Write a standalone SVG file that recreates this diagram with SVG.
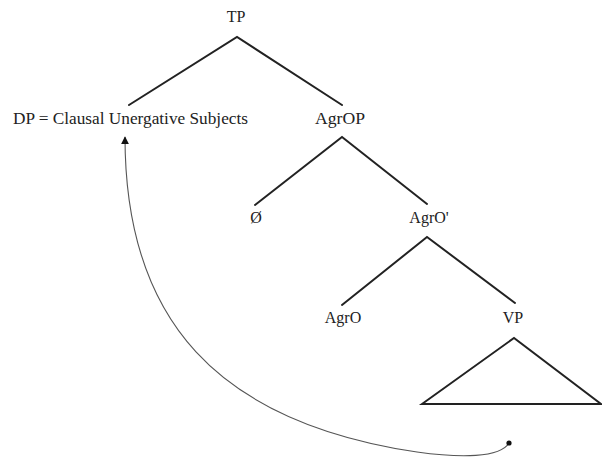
<svg xmlns="http://www.w3.org/2000/svg" width="602" height="458" viewBox="0 0 602 458">
<style>
.lbl{font-family:"Liberation Serif","Times New Roman",serif;font-size:16px;fill:#222;text-anchor:middle}
.br{stroke:#222;stroke-width:2;fill:none;stroke-linecap:round}
.mv{stroke:#555;stroke-width:1.1;fill:none}
</style>
<defs>
<marker id="ah" viewBox="0 0 10 10" refX="9" refY="5" markerWidth="8" markerHeight="8" markerUnits="userSpaceOnUse" orient="auto">
<path d="M0,0 L10,5 L0,10 z" fill="#111"/>
</marker>
</defs>
<rect width="602" height="458" fill="#fff"/>
<g id="connectors">
<path class="br" d="M129,105 L237,37 L342,105"/>
<path class="br" d="M255,205 L342,137 L427,204"/>
<path class="br" d="M342,305 L427,237 L515,303"/>
<path class="br" d="M422,404 L514,338 L601,404 Z"/>
<path class="mv" d="M509,443 C500,458 460,458 417,452 C217,422 125,320 125,137" marker-end="url(#ah)"/>
<circle cx="509" cy="443" r="2.6" fill="#111"/>
</g>
<g id="TP"><text class="lbl" x="236" y="22">TP</text></g>
<g id="DP"><text class="lbl" x="130.5" y="124" textLength="235" lengthAdjust="spacingAndGlyphs">DP = Clausal Unergative Subjects</text></g>
<g id="AgrOP"><text class="lbl" x="340" y="124" textLength="50" lengthAdjust="spacingAndGlyphs">AgrOP</text></g>
<g id="null"><text class="lbl" x="256" y="223">Ø</text></g>
<g id="AgrObar"><text class="lbl" x="429" y="223">AgrO'</text></g>
<g id="AgrO"><text class="lbl" x="343" y="323">AgrO</text></g>
<g id="VP"><text class="lbl" x="513" y="323">VP</text></g>
</svg>
